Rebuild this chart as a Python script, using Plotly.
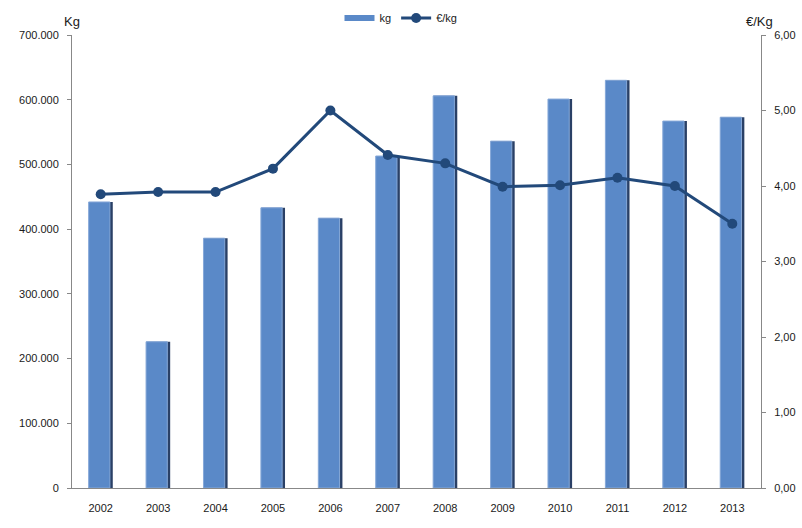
import plotly.graph_objects as go

years = ["2002", "2003", "2004", "2005", "2006", "2007", "2008", "2009", "2010", "2011", "2012", "2013"]
kg = [442000, 226000, 386000, 433000, 417000, 513000, 606000, 536000, 601000, 630000, 567000, 573000]
eur_per_kg = [3.89, 3.92, 3.92, 4.23, 5.00, 4.41, 4.30, 3.99, 4.01, 4.11, 4.00, 3.50]

left_ticks = [0, 100000, 200000, 300000, 400000, 500000, 600000, 700000]
left_labels = ["0", "100.000", "200.000", "300.000", "400.000", "500.000", "600.000", "700.000"]
right_ticks = [0, 1, 2, 3, 4, 5, 6]
right_labels = ["0,00", "1,00", "2,00", "3,00", "4,00", "5,00", "6,00"]

FAM = "Liberation Sans, Arial, sans-serif"
font = dict(family=FAM, size=11, color="#1a1a1a")
BAR = "#5A89C8"
LINE = "#22497A"

fig = go.Figure()
# dark shadow edge behind each bar
fig.add_trace(go.Bar(
    x=years, y=kg, name="kg_shadow", showlegend=False, hoverinfo="skip",
    width=0.41, offset=-0.2,
    marker=dict(color="#2a4066", line=dict(width=0)),
    yaxis="y",
))
fig.add_trace(go.Bar(
    x=years, y=kg, name="kg", showlegend=False,
    width=0.37, offset=-0.21,
    marker=dict(color=BAR, line=dict(color="#86A8D8", width=1)),
    yaxis="y",
))
# legend entry for bars (drawn as a wide band like the original)
fig.add_trace(go.Scatter(
    x=[None], y=[None], name="kg", mode="lines",
    line=dict(color=BAR, width=6), yaxis="y",
))
fig.add_trace(go.Scatter(
    x=years, y=eur_per_kg, name="€/kg", mode="lines+markers",
    line=dict(color=LINE, width=3),
    marker=dict(color=LINE, size=10),
    yaxis="y2",
))

fig.update_layout(
    width=802, height=528,
    margin=dict(l=72, r=41, t=35, b=40, autoexpand=False),
    paper_bgcolor="white", plot_bgcolor="white",
    font=font,
    barmode="overlay",
    showlegend=True,
    legend=dict(orientation="h", x=0.5, xanchor="center", xref="container",
                y=1 - 18 / 528, yanchor="middle", yref="container",
                font=dict(family=FAM, size=11, color="#1a1a1a"),
                bgcolor="rgba(0,0,0,0)", itemwidth=30, tracegroupgap=0),
    xaxis=dict(showline=True, linecolor="#888888", linewidth=1, ticks="",
               ticklabelstandoff=10, showgrid=False, tickfont=font,
               range=[-0.5, 11.5], automargin=False),
    yaxis=dict(range=[0, 700000], tickvals=left_ticks, ticktext=left_labels,
               showline=True, linecolor="#888888", linewidth=1, ticks="outside",
               tickcolor="#888888", ticklen=4, ticklabelstandoff=6,
               showgrid=False, zeroline=False, tickfont=font, automargin=False),
    yaxis2=dict(range=[0, 6], tickvals=right_ticks, ticktext=right_labels,
                overlaying="y", side="right",
                showline=True, linecolor="#888888", linewidth=1, ticks="outside",
                tickcolor="#888888", ticklen=4, ticklabelstandoff=6,
                showgrid=False, zeroline=False, tickfont=font, automargin=False),
    annotations=[
        dict(text="Kg", xref="paper", yref="paper", x=0, y=1, xanchor="center",
             yanchor="bottom", yshift=4, showarrow=False,
             font=dict(family=FAM, size=13, color="#1a1a1a")),
        dict(text="€/Kg", xref="paper", yref="paper", x=1, y=1, xanchor="right",
             yanchor="bottom", yshift=4, xshift=14, showarrow=False,
             font=dict(family=FAM, size=13, color="#1a1a1a")),
    ],
)

fig.write_html("out.html", config={"displayModeBar": False},
               post_script="document.body.style.margin='0';document.body.style.overflow='hidden';")
